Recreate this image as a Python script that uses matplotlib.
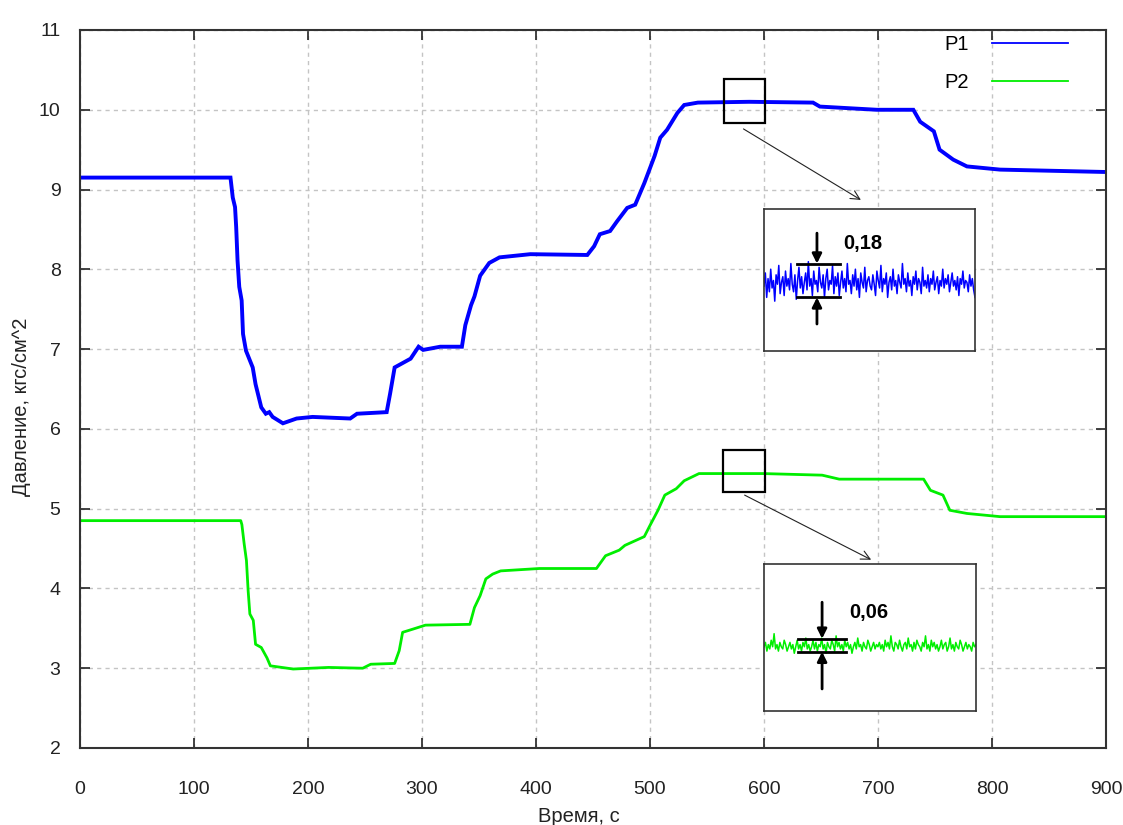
import numpy as np
import matplotlib
matplotlib.use('Agg')
import matplotlib.pyplot as plt
from matplotlib.lines import Line2D
from matplotlib.patches import Rectangle

plt.rcParams['font.family'] = ['Liberation Sans', 'DejaVu Sans']

# Данные
t_p1 = [0, 132, 134, 136, 137, 138.2, 139.7, 141.8, 143, 145.6, 151.5, 154, 159, 163, 166, 169,
        178, 190, 204, 237, 243, 269, 272, 276, 290, 297, 301, 316, 335, 338, 343, 346, 351,
        359, 368, 395, 445, 451, 456, 465, 471, 480, 487, 495, 504, 509, 515, 524, 530, 542,
        587, 643, 649, 699, 731, 737, 749, 754, 766, 778, 807, 900]
p1 = [9.15, 9.15, 8.9, 8.78, 8.53, 8.11, 7.78, 7.61, 7.19, 6.98, 6.77, 6.56, 6.27, 6.19, 6.21, 6.15,
      6.07, 6.13, 6.15, 6.13, 6.19, 6.21, 6.44, 6.77, 6.88, 7.03, 6.99, 7.03, 7.03, 7.3, 7.55, 7.66, 7.92,
      8.08, 8.15, 8.19, 8.18, 8.29, 8.44, 8.48, 8.6, 8.77, 8.81, 9.08, 9.42, 9.65, 9.75, 9.96, 10.06, 10.09,
      10.1, 10.09, 10.04, 10.0, 10.0, 9.85, 9.73, 9.5, 9.375, 9.29, 9.25, 9.22]

t_p2 = [0, 141, 142, 144, 146, 147.5, 149, 152, 154, 159, 164, 167, 187, 218, 248, 255, 276, 280,
        283, 292, 303, 342, 346, 351, 356, 362, 369, 403, 453, 461, 473, 478, 495, 500, 507, 513,
        523, 530, 543, 599, 651, 666, 740, 746, 757, 763, 778, 807, 900]
p2 = [4.85, 4.85, 4.8, 4.56, 4.35, 3.97, 3.68, 3.6, 3.3, 3.26, 3.13, 3.03, 2.99, 3.01, 3.0, 3.05, 3.06, 3.22,
      3.45, 3.49, 3.54, 3.55, 3.76, 3.91, 4.12, 4.18, 4.22, 4.25, 4.25, 4.41, 4.48, 4.54, 4.65, 4.79, 4.98, 5.17,
      5.25, 5.35, 5.44, 5.44, 5.42, 5.37, 5.37, 5.23, 5.17, 4.98, 4.94, 4.9, 4.9]

# Участок 565..600 с в увеличении
p1_zoom = [10.08, 10.15, 10.02, 10.12, 10.05, 10.17, 10.07, 10.11, 10.00, 10.14, 10.09, 10.19, 10.04, 10.10,
           10.13, 10.03, 10.16, 10.08, 10.12, 10.06, 10.20, 10.09, 10.05, 10.14, 10.01, 10.11, 10.18, 10.07,
           10.13, 10.04, 10.10, 10.15, 10.06, 10.21, 10.08, 10.12, 10.03, 10.16, 10.09, 10.11, 10.05, 10.18,
           10.10, 10.07, 10.14, 10.02, 10.12, 10.17, 10.06, 10.11, 10.09, 10.19, 10.04, 10.13, 10.08, 10.15,
           10.03, 10.10, 10.16, 10.07, 10.12, 10.05, 10.20, 10.09, 10.11, 10.04, 10.14, 10.08, 10.17, 10.06,
           10.12, 10.02, 10.15, 10.10, 10.07, 10.18, 10.05, 10.11, 10.13, 10.08,
           10.06, 10.14, 10.09, 10.03, 10.16, 10.11, 10.07, 10.19, 10.05, 10.12, 10.09, 10.15, 10.02, 10.10,
           10.13, 10.06, 10.17, 10.08, 10.11, 10.04, 10.14, 10.10, 10.07, 10.20, 10.09, 10.12, 10.05, 10.15,
           10.08, 10.11, 10.03, 10.13, 10.09, 10.16, 10.06, 10.12, 10.10, 10.04, 10.18, 10.08, 10.11, 10.07,
           10.14, 10.05, 10.12, 10.09, 10.16, 10.06, 10.10, 10.13, 10.04, 10.11, 10.08, 10.17, 10.07, 10.12,
           10.09, 10.14, 10.05, 10.10, 10.15, 10.08, 10.11, 10.06, 10.13, 10.03, 10.12, 10.09, 10.16, 10.07,
           10.11, 10.10, 10.05, 10.14, 10.08, 10.12, 10.06, 10.02]
p2_zoom = [5.44, 5.46, 5.42, 5.45, 5.43, 5.47, 5.44, 5.50, 5.43, 5.45, 5.42, 5.46, 5.44, 5.43, 5.47, 5.45,
           5.42, 5.44, 5.46, 5.43, 5.45, 5.41, 5.44, 5.47, 5.43, 5.45, 5.42, 5.46, 5.44, 5.48, 5.43, 5.45,
           5.42, 5.44, 5.47, 5.43, 5.46, 5.42, 5.45, 5.44, 5.48, 5.43, 5.45, 5.41, 5.46, 5.44, 5.43, 5.47,
           5.45, 5.42, 5.49, 5.44, 5.46, 5.43, 5.45, 5.42, 5.47, 5.44, 5.46, 5.43, 5.45, 5.41, 5.44, 5.46,
           5.43, 5.48, 5.44, 5.45, 5.42, 5.46, 5.44, 5.43, 5.47, 5.45, 5.42, 5.44, 5.46, 5.43, 5.45, 5.44,
           5.46, 5.43, 5.45, 5.42, 5.47, 5.44, 5.46, 5.43, 5.49, 5.44, 5.42, 5.46, 5.45, 5.43, 5.47, 5.44,
           5.42, 5.45, 5.46, 5.43, 5.48, 5.44, 5.45, 5.42, 5.46, 5.43, 5.47, 5.45, 5.44, 5.42, 5.46, 5.44,
           5.49, 5.43, 5.45, 5.42, 5.47, 5.44, 5.46, 5.43, 5.45, 5.42, 5.44, 5.47, 5.43, 5.45, 5.46, 5.42,
           5.44, 5.48, 5.43, 5.45, 5.42, 5.46, 5.44, 5.43, 5.47, 5.45, 5.42, 5.44, 5.46, 5.43, 5.45, 5.44,
           5.42, 5.46, 5.44, 5.45]
noise_p1 = 0.18
noise_p2 = 0.06

blue = '#0000ff'
green = '#00ee00'
txt = '#222222'

fig = plt.figure(figsize=(11.23, 8.25), dpi=100)
ax = fig.add_axes([80 / 1123, 1 - 748 / 825, 1026 / 1123, 718 / 825])

ax.plot(t_p1, p1, color=blue, lw=2.8, solid_joinstyle='miter')
ax.plot(t_p2, p2, color=green, lw=2.0)

ax.set_xlim(0, 900)
ax.set_ylim(2, 11)
ax.set_xticks(range(0, 901, 100))
ax.set_yticks(range(2, 12))
ax.grid(True, color='#c4c4c4', linestyle=(0, (3, 3)), lw=1)
ax.set_axisbelow(True)
ax.tick_params(direction='in', length=7, width=1.2, top=True, right=True,
               labelsize=14, colors=txt)
ax.tick_params(axis='x', pad=24)
ax.tick_params(axis='y', pad=14)
for s in ax.spines.values():
    s.set_linewidth(1.5)
    s.set_color('#333333')

ax.set_xlabel('Время, с', fontsize=14.5, color=txt)
ax.set_ylabel('Давление, кгс/см^2', fontsize=14.5, color=txt)
ax.xaxis.set_label_coords(0.486, -0.082)
ax.yaxis.set_label_coords(-0.048, 0.475)

handles = [Line2D([], [], color=blue, lw=1.3), Line2D([], [], color=green, lw=1.3)]
ax.legend(handles, ['P1', 'P2'], loc='upper right', bbox_to_anchor=(0.963, 0.993),
          frameon=False, markerfirst=False, fontsize=14.5, handlelength=3.8,
          handletextpad=1.1, labelspacing=0.95, borderpad=0, borderaxespad=0)

# Рамки выделенных участков и стрелки к врезкам
ax.add_patch(Rectangle((565, 9.83), 36, 0.56, fill=False, lw=1.6, color='k', zorder=5))
ax.add_patch(Rectangle((564, 5.21), 37, 0.53, fill=False, lw=1.6, color='k', zorder=5))
ax.annotate('', xy=(685, 8.87), xytext=(582, 9.76),
            arrowprops=dict(arrowstyle='->', lw=0.8, color=txt, mutation_scale=16, shrinkA=0, shrinkB=0))
ax.annotate('', xy=(694, 4.36), xytext=(583, 5.17),
            arrowprops=dict(arrowstyle='->', lw=0.8, color=txt, mutation_scale=16, shrinkA=0, shrinkB=0))


def inset(rect, values, color, ylim, level, amp, xl, xa, y_down, y_up, label, ytext):
    ai = fig.add_axes(rect)
    ai.plot(np.linspace(565, 600, len(values)), values, color=color, lw=1.1)
    ai.set_xlim(565, 600)
    ai.set_ylim(*ylim)
    ai.set_xticks([])
    ai.set_yticks([])
    for s in ai.spines.values():
        s.set_linewidth(1.2)
        s.set_color('#333333')
    tr = ai.get_yaxis_transform()
    hi = level + amp / 2
    lo = level - amp / 2
    ai.plot(xl, [hi, hi], color='k', lw=2, transform=tr)
    ai.plot(xl, [lo, lo], color='k', lw=2, transform=tr)
    arr = dict(arrowstyle='-|>', lw=2, color='k', mutation_scale=14, shrinkA=0, shrinkB=0)
    ai.annotate('', xy=(xa, hi), xycoords=tr, xytext=(xa, y_down), textcoords='axes fraction', arrowprops=arr)
    ai.annotate('', xy=(xa, lo), xycoords=tr, xytext=(xa, y_up), textcoords='axes fraction', arrowprops=arr)
    ai.text(xl[1] + 0.015, ytext, label, transform=ai.transAxes,
            fontsize=14.5, fontweight='bold', ha='left', va='center', color='k')


inset([764 / 1123, 1 - 351 / 825, 211 / 1123, 142 / 825], p1_zoom, blue, (9.735, 10.49),
      10.11, noise_p1, [0.156, 0.36], 0.251, 0.83, 0.19, '0,18', 0.76)
inset([764 / 1123, 1 - 711 / 825, 212 / 1123, 147 / 825], p2_zoom, green, (5.145, 5.82),
      5.447, noise_p2, [0.16, 0.387], 0.274, 0.74, 0.15, '0,06', 0.67)

fig.savefig('out.png', dpi=100)
